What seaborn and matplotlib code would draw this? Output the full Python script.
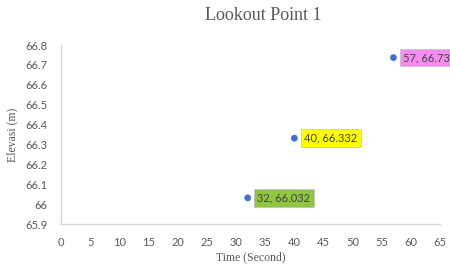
import numpy as np
import pandas as pd
import seaborn as sns
import matplotlib.pyplot as plt

time_s = [32, 40, 57]
elevasi = [66.032, 66.332, 66.737]
labels = ["32, 66.032", "40, 66.332", "57, 66.737"]
box_colors = ["#8fc640", "#ffff00", "#f58cf0"]
x_ticks = list(range(0, 70, 5))
y_ticks = [65.9, 66.0, 66.1, 66.2, 66.3, 66.4, 66.5, 66.6, 66.7, 66.8]
y_tick_labels = ["65.9", "66", "66.1", "66.2", "66.3", "66.4", "66.5", "66.6", "66.7", "66.8"]

df = pd.DataFrame({"Time": time_s, "Elevasi": elevasi})

sns.set_theme(style="white")
fig = plt.figure(figsize=(4.5, 2.7), dpi=100)
ax = fig.add_axes([0.136, 0.170, 0.842, 0.663])

sns.scatterplot(data=df, x="Time", y="Elevasi", ax=ax, color="#4472c4",
                s=24, edgecolor="none", legend=False)

ax.set_xlim(0, 65)
ax.set_ylim(65.9, 66.8)
ax.set_xticks(x_ticks)
ax.set_yticks(y_ticks)
ax.set_yticklabels(y_tick_labels)
ax.tick_params(axis="x", length=0, labelsize=8, colors="#595959", pad=9)
ax.tick_params(axis="y", length=0, labelsize=8, colors="#595959", pad=10)
for lbl in ax.get_xticklabels() + ax.get_yticklabels():
    lbl.set_family("Lato")

for side in ["top", "right"]:
    ax.spines[side].set_visible(False)
for side in ["left", "bottom"]:
    ax.spines[side].set_color("#d9d9d9")
    ax.spines[side].set_linewidth(1)

serif = "Liberation Serif"
ax.set_xlabel("Time (Second)", fontsize=8.5, color="#595959", family=serif, labelpad=3)
ax.set_ylabel("Elevasi (m)", fontsize=8.5, color="#595959", family=serif, labelpad=5)
fig.suptitle("Lookout Point 1", x=0.585, y=0.975, fontsize=13, color="#595959", family=serif)

for x, y, t, c in zip(time_s, elevasi, labels, box_colors):
    ax.annotate(t, xy=(x, y), xytext=(7, 0), textcoords="offset points",
                va="center", ha="left", fontsize=8, color="#404040", family="Lato",
                bbox=dict(boxstyle="square,pad=0.3", fc=c, ec="#bfbfbf", lw=0.5),
                arrowprops=dict(arrowstyle="-", color="#bfbfbf", lw=0.5),
                annotation_clip=False)

fig.savefig("out.png", dpi=100)
